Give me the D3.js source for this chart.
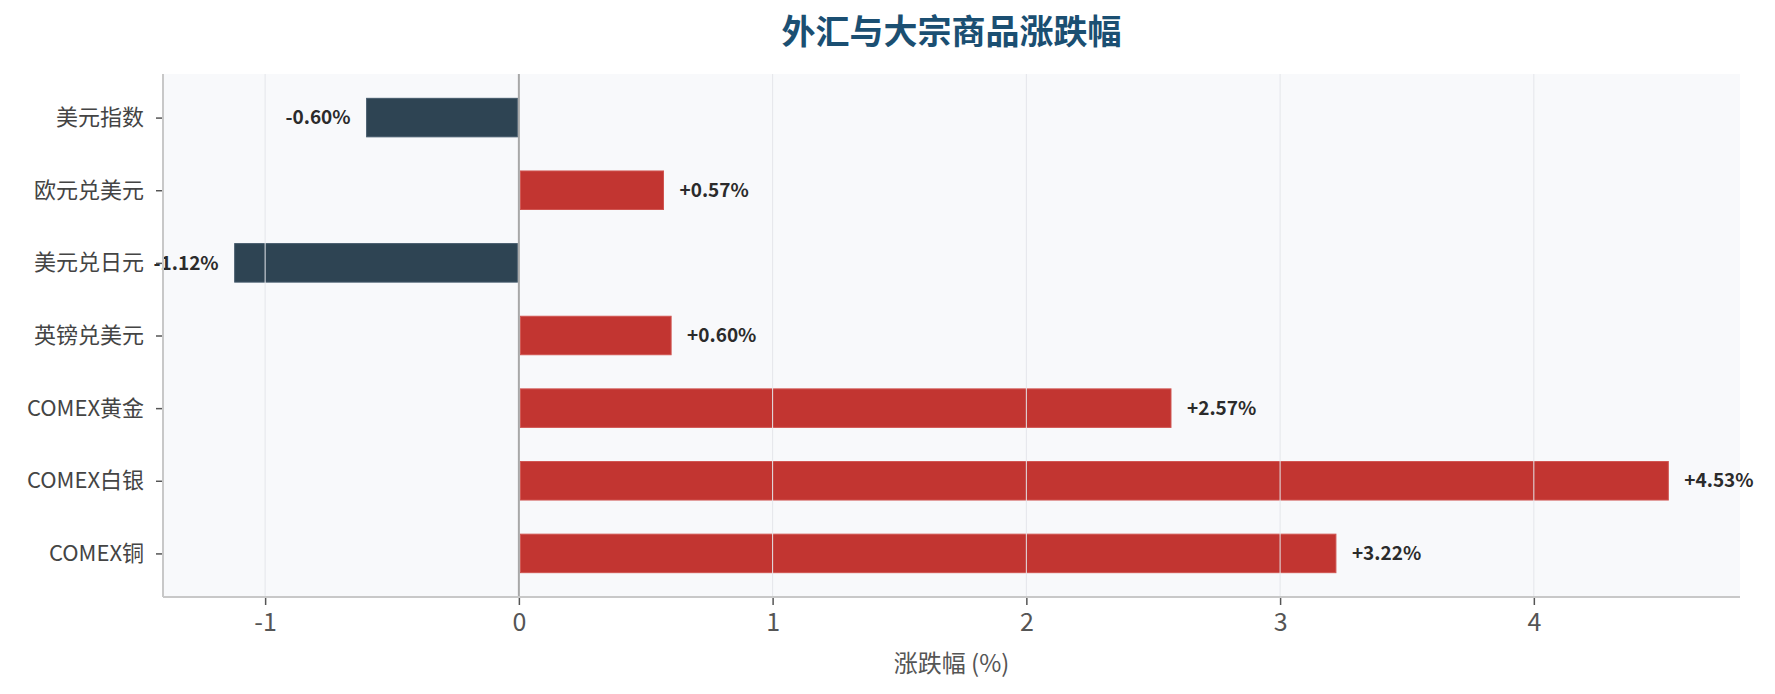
<!DOCTYPE html>
<html>
<head>
<meta charset="utf-8">
<script src="https://cdn.jsdelivr.net/npm/d3@7"></script>
<style>
  html, body { margin: 0; padding: 0; background: #fff; }
  svg { display: block; font-family: "Noto Sans CJK SC", "Noto Sans", sans-serif; }
</style>
</head>
<body>
<div id="chart"></div>
<script>
// data
const categories = ["美元指数", "欧元兑美元", "美元兑日元", "英镑兑美元", "COMEX黄金", "COMEX白银", "COMEX铜"]
const changes = [-0.60, 0.57, -1.12, 0.60, 2.57, 4.53, 3.22]
const xTicks = [-1, 0, 1, 2, 3, 4]

const width = 1775
const height = 694
const margin = { top: 74, right: 35, bottom: 97, left: 163 }

const upColor = "#c23531"
const downColor = "#2e4453"

const svg = d3.select("#chart").append("svg")
  .attr("width", width)
  .attr("height", height)

// matplotlib-like 5% padding on the data range
const lo = d3.min(changes), hi = d3.max(changes)
const pad = (hi - lo) * 0.05

const x = d3.scaleLinear()
  .domain([lo - pad, hi + pad])
  .range([margin.left, width - margin.right])

const y = d3.scaleLinear()
  .domain([-0.6, categories.length - 1 + 0.6])
  .range([margin.top, height - margin.bottom])

const barH = (y(1) - y(0)) * 0.53

// plot background
svg.append("rect")
  .attr("x", margin.left)
  .attr("y", margin.top)
  .attr("width", width - margin.left - margin.right)
  .attr("height", height - margin.top - margin.bottom)
  .attr("fill", "#f8f9fb")

// bars
svg.append("g")
  .selectAll("rect")
  .data(changes)
  .join("rect")
    .attr("x", d => x(Math.min(0, d)) + (d > 0 ? 1.5 : 0))
    .attr("width", d => Math.abs(x(d) - x(0)) - 1.5)
    .attr("y", (d, i) => y(i) - barH / 2)
    .attr("height", barH)
    .attr("fill", d => d >= 0 ? upColor : downColor)
    .attr("stroke", d => d >= 0 ? "#d05450" : "#44596a")
    .attr("stroke-width", 1)

// vertical grid, drawn above the bars like the reference
svg.append("g")
  .selectAll("line")
  .data(xTicks.filter(t => t !== 0))
  .join("line")
    .attr("x1", d => x(d)).attr("x2", d => x(d))
    .attr("y1", margin.top).attr("y2", height - margin.bottom)
    .attr("stroke", "#e4e6ea")
    .attr("stroke-width", 1)

// zero line
svg.append("line")
  .attr("x1", x(0)).attr("x2", x(0))
  .attr("y1", margin.top).attr("y2", height - margin.bottom)
  .attr("stroke", "#a8a8a8")
  .attr("stroke-width", 2)

// value labels
svg.append("g")
  .selectAll("text")
  .data(changes)
  .join("text")
    .attr("x", d => d >= 0 ? x(d) + 16 : x(d) - 16)
    .attr("y", (d, i) => y(i))
    .attr("dy", "0.35em")
    .attr("text-anchor", d => d >= 0 ? "start" : "end")
    .attr("font-size", 19)
    .attr("font-weight", "bold")
    .attr("fill", "#2b2b2b")
    .text(d => (d >= 0 ? "+" : "") + d.toFixed(2) + "%")

// x axis (plain hyphen for negatives, as in the reference)
const xAxis = svg.append("g")
  .attr("transform", `translate(0,${height - margin.bottom})`)
  .call(d3.axisBottom(x).tickValues(xTicks).tickFormat(d => String(d)).tickSize(8).tickPadding(8))
xAxis.select(".domain").remove()
xAxis.selectAll(".tick line").attr("stroke", "#555").attr("stroke-width", 1.5)
xAxis.selectAll(".tick text")
  .attr("font-size", 25)
  .attr("fill", "#555")
  .attr("font-family", "'Noto Sans CJK SC', sans-serif")

// y axis
const yAxis = svg.append("g")
  .attr("transform", `translate(${margin.left},0)`)
  .call(d3.axisLeft(y).tickValues(d3.range(categories.length)).tickFormat(i => categories[i]).tickSize(7).tickPadding(12))
yAxis.select(".domain").remove()
yAxis.selectAll(".tick line").attr("stroke", "#555").attr("stroke-width", 1.5)
yAxis.selectAll(".tick text")
  .attr("font-size", 22)
  .attr("fill", "#444")
  .attr("font-family", "'Noto Sans CJK SC', sans-serif")

// left and bottom spines
svg.append("line")
  .attr("x1", margin.left).attr("x2", margin.left)
  .attr("y1", margin.top).attr("y2", height - margin.bottom)
  .attr("stroke", "#c8c8c8").attr("stroke-width", 2)
svg.append("line")
  .attr("x1", margin.left).attr("x2", width - margin.right)
  .attr("y1", height - margin.bottom).attr("y2", height - margin.bottom)
  .attr("stroke", "#c8c8c8").attr("stroke-width", 2)

// axis title
svg.append("text")
  .attr("x", (margin.left + width - margin.right) / 2)
  .attr("y", 664)
  .attr("dy", "0.35em")
  .attr("text-anchor", "middle")
  .attr("font-size", 24)
  .attr("fill", "#555")
  .text("涨跌幅 (%)")

// chart title
svg.append("text")
  .attr("x", (margin.left + width - margin.right) / 2)
  .attr("y", 32)
  .attr("dy", "0.36em")
  .attr("text-anchor", "middle")
  .attr("font-size", 34)
  .attr("font-weight", "bold")
  .attr("fill", "#1b4f72")
  .text("外汇与大宗商品涨跌幅")
</script>
</body>
</html>
